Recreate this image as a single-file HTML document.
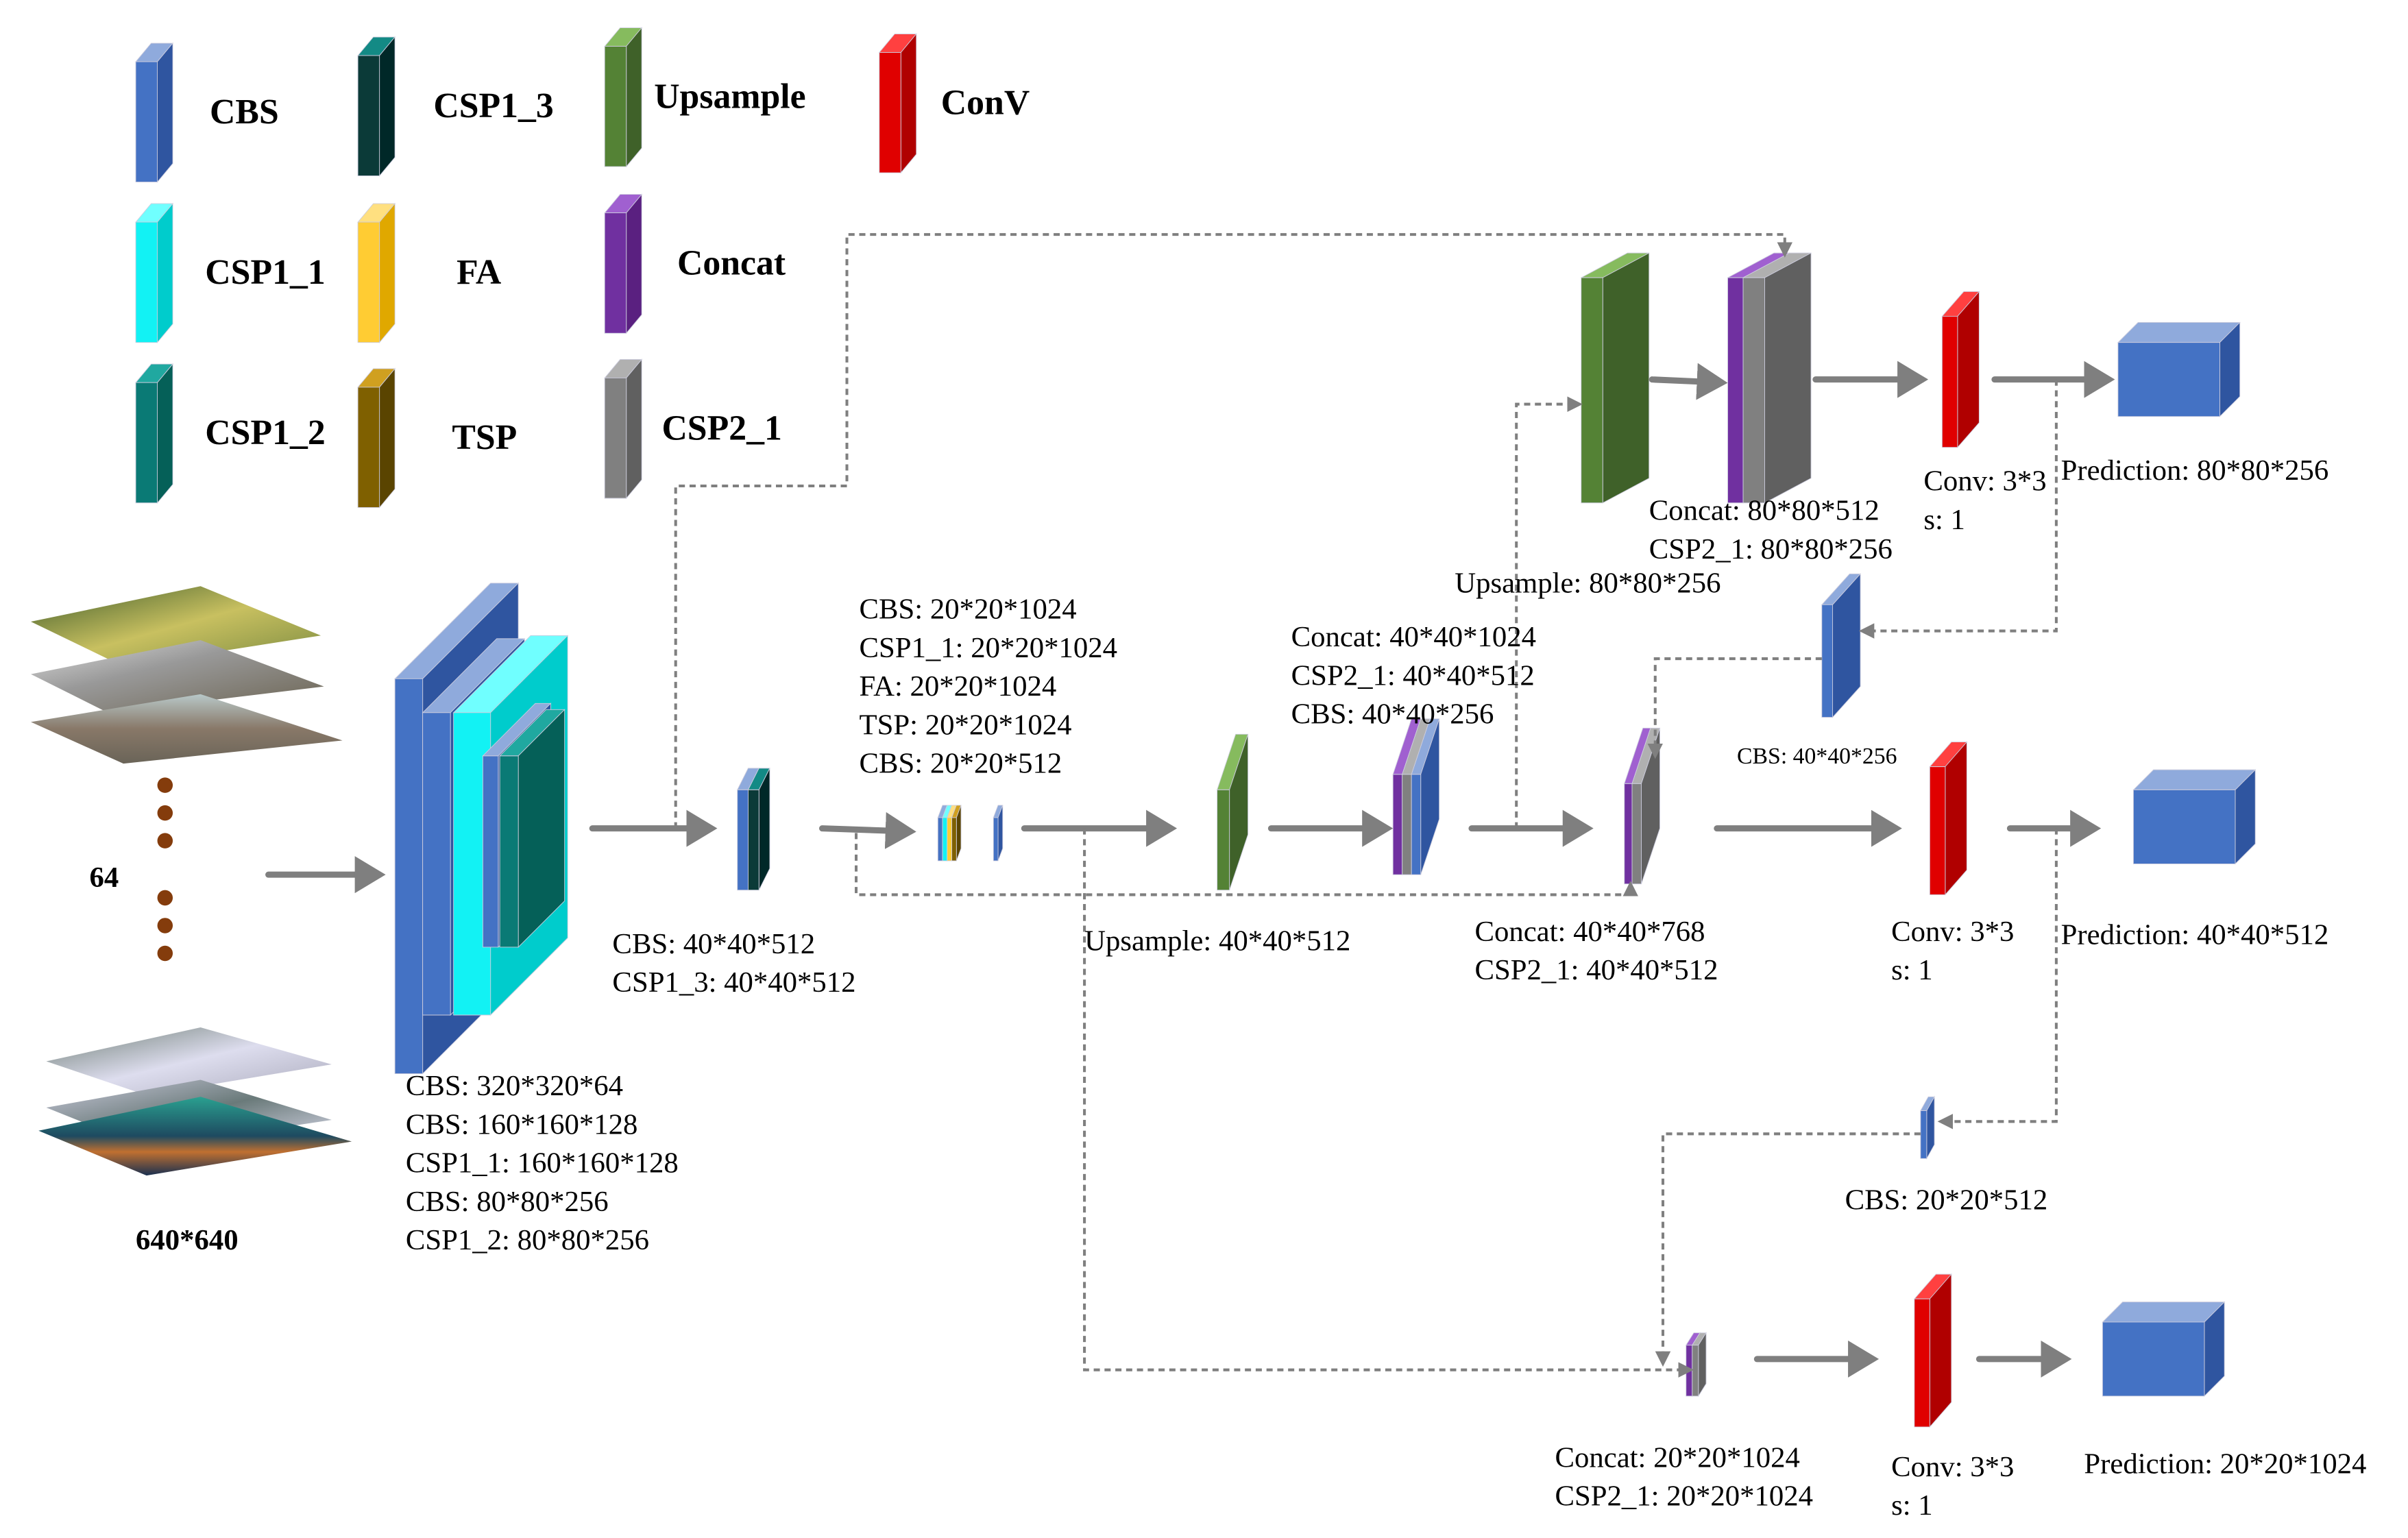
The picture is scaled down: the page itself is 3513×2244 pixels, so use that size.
<!DOCTYPE html>
<html><head><meta charset="utf-8"><style>
html,body{margin:0;padding:0;background:#fff;}
svg{display:block;}
.t{font-family:"Liberation Serif","Times New Roman",serif;font-size:19px;fill:#000;}
.b{font-family:"Liberation Serif","Times New Roman",serif;font-size:23px;font-weight:bold;fill:#000;}
.a{stroke:#7f7f7f;stroke-width:4;fill:none;stroke-linecap:round;}
.d{stroke:#7f7f7f;stroke-width:1.8;fill:none;stroke-dasharray:4,3;}
</style></head><body>
<svg id="s" width="3513" height="2244" viewBox="0 0 1561 997" preserveAspectRatio="none" xmlns="http://www.w3.org/2000/svg" font-family="Liberation Serif, serif">
<defs>
<marker id="ah" markerWidth="6" markerHeight="6" refX="4" refY="3" orient="auto" markerUnits="strokeWidth"><path d="M0,0 L5,3 L0,6 Z" fill="#7f7f7f"/></marker>
<marker id="dh" markerWidth="10" markerHeight="10" refX="8" refY="5" orient="auto" markerUnits="userSpaceOnUse"><path d="M0,0 L10,5 L0,10 Z" fill="#7f7f7f"/></marker>
<linearGradient id="g1" x1="0" y1="0" x2="1" y2="1"><stop offset="0" stop-color="#3d5a2a"/><stop offset=".5" stop-color="#c8c060"/><stop offset="1" stop-color="#7a8a40"/></linearGradient>
<linearGradient id="g2" x1="0" y1="0" x2="1" y2="1"><stop offset="0" stop-color="#ddd"/><stop offset=".4" stop-color="#999"/><stop offset="1" stop-color="#6a6250"/></linearGradient>
<linearGradient id="g3" x1="0" y1="0" x2="0" y2="1"><stop offset="0" stop-color="#b8c8c8"/><stop offset=".5" stop-color="#887868"/><stop offset="1" stop-color="#6a6458"/></linearGradient>
<linearGradient id="g4" x1="0" y1="0" x2="1" y2="1"><stop offset="0" stop-color="#6a7a70"/><stop offset=".5" stop-color="#dde"/><stop offset="1" stop-color="#aab"/></linearGradient>
<linearGradient id="g5" x1="0" y1="0" x2="1" y2="1"><stop offset="0" stop-color="#ccd"/><stop offset=".5" stop-color="#6a7a7a"/><stop offset="1" stop-color="#dde"/></linearGradient>
<linearGradient id="g6" x1="0" y1="0" x2="0" y2="1"><stop offset="0" stop-color="#2aa090"/><stop offset=".5" stop-color="#1e4a60"/><stop offset=".7" stop-color="#c07030"/><stop offset="1" stop-color="#1a3050"/></linearGradient>
</defs>
<g id="shapes"></g>
<polygon points="20,403 130,380 208,412 80,432" fill="url(#g1)"/>
<polygon points="20,437 130,415 210,445 70,462" fill="url(#g2)"/>
<polygon points="20,468 130,450 222,480 80,495" fill="url(#g3)"/>
<polygon points="30,688 130,666 215,690 95,710" fill="url(#g4)"/>
<polygon points="30,718 130,700 215,726 95,744" fill="url(#g5)"/>
<polygon points="25,733 130,711 228,740 95,762" fill="url(#g6)"/>
<g fill="#843c0c"><circle cx="107" cy="509" r="5"/><circle cx="107" cy="527" r="5"/><circle cx="107" cy="545" r="5"/><circle cx="107" cy="582" r="5"/><circle cx="107" cy="600" r="5"/><circle cx="107" cy="618" r="5"/></g>
<g font-family="Liberation Serif, serif">
<text class="b" x="58" y="575" style="font-size:19px">64</text>
<text class="b" x="88" y="810" style="font-size:19px">640*640</text>
<text class="b" x="136" y="80">CBS</text>
<text class="b" x="281" y="76">CSP1_3</text>
<text class="b" x="424" y="70">Upsample</text>
<text class="b" x="610" y="74">ConV</text>
<text class="b" x="133" y="184">CSP1_1</text>
<text class="b" x="296" y="184">FA</text>
<text class="b" x="439" y="178">Concat</text>
<text class="b" x="133" y="288">CSP1_2</text>
<text class="b" x="293" y="291">TSP</text>
<text class="b" x="429" y="285">CSP2_1</text>
</g>
<g class="a">
<line x1="174" y1="567" x2="246" y2="567" marker-end="url(#ah)"/>
<line x1="384" y1="537" x2="461" y2="537" marker-end="url(#ah)"/>
<line x1="533" y1="537" x2="590" y2="539" marker-end="url(#ah)"/>
<line x1="664" y1="537" x2="759" y2="537" marker-end="url(#ah)"/>
<line x1="824" y1="537" x2="899" y2="537" marker-end="url(#ah)"/>
<line x1="954" y1="537" x2="1029" y2="537" marker-end="url(#ah)"/>
<line x1="1113" y1="537" x2="1229" y2="537" marker-end="url(#ah)"/>
<line x1="1303" y1="537" x2="1358" y2="537" marker-end="url(#ah)"/>
<line x1="1139" y1="881" x2="1214" y2="881" marker-end="url(#ah)"/>
<line x1="1283" y1="881" x2="1339" y2="881" marker-end="url(#ah)"/>
<line x1="1071" y1="246" x2="1116" y2="248" marker-end="url(#ah)"/>
<line x1="1177" y1="246" x2="1246" y2="246" marker-end="url(#ah)"/>
<line x1="1293" y1="246" x2="1367" y2="246" marker-end="url(#ah)"/>
</g>
<g class="d">
<polyline points="438,537 438,315 549,315 549,152 1157,152 1157,165" marker-end="url(#dh)"/>
<polyline points="555,540 555,580 1057,580 1057,573" marker-end="url(#dh)"/>
<polyline points="703,537 703,888 1096,888" marker-end="url(#dh)"/>
<polyline points="983,537 983,262 1024,262" marker-end="url(#dh)"/>
<polyline points="1333,246 1333,409 1207,409" marker-end="url(#dh)"/>
<polyline points="1181,427 1073,427 1073,490" marker-end="url(#dh)"/>
<polyline points="1333,537 1333,727 1258,727" marker-end="url(#dh)"/>
<polyline points="1245,735 1078,735 1078,884" marker-end="url(#dh)"/>
</g>
<g class="t" font-family="Liberation Serif, serif">
<text x="263" y="710">CBS: 320*320*64</text>
<text x="263" y="735">CBS: 160*160*128</text>
<text x="263" y="760">CSP1_1: 160*160*128</text>
<text x="263" y="785">CBS: 80*80*256</text>
<text x="263" y="810">CSP1_2: 80*80*256</text>
<text x="397" y="618">CBS: 40*40*512</text>
<text x="397" y="643">CSP1_3: 40*40*512</text>
<text x="557" y="401">CBS: 20*20*1024</text>
<text x="557" y="426">CSP1_1: 20*20*1024</text>
<text x="557" y="451">FA: 20*20*1024</text>
<text x="557" y="476">TSP: 20*20*1024</text>
<text x="557" y="501">CBS: 20*20*512</text>
<text x="703" y="616">Upsample: 40*40*512</text>
<text x="837" y="419">Concat: 40*40*1024</text>
<text x="837" y="444">CSP2_1: 40*40*512</text>
<text x="837" y="469">CBS: 40*40*256</text>
<text x="956" y="610">Concat: 40*40*768</text>
<text x="956" y="635">CSP2_1: 40*40*512</text>
<text x="1226" y="610">Conv: 3*3</text>
<text x="1226" y="635">s: 1</text>
<text x="1336" y="612">Prediction: 40*40*512</text>
<text x="1196" y="784">CBS: 20*20*512</text>
<text x="1008" y="951">Concat: 20*20*1024</text>
<text x="1008" y="976">CSP2_1: 20*20*1024</text>
<text x="1226" y="957">Conv: 3*3</text>
<text x="1226" y="982">s: 1</text>
<text x="1351" y="955">Prediction: 20*20*1024</text>
<text x="943" y="384">Upsample: 80*80*256</text>
<text x="1069" y="337">Concat: 80*80*512</text>
<text x="1069" y="362">CSP2_1: 80*80*256</text>
<text x="1247" y="318">Conv: 3*3</text>
<text x="1247" y="343">s: 1</text>
<text x="1336" y="311">Prediction: 80*80*256</text>
<text x="1126" y="495" style="font-size:15px">CBS: 40*40*256</text>
</g>
</svg>
<script>
var g=document.getElementById('shapes'),NS='http://www.w3.org/2000/svg';
function P(pts,f){var p=document.createElementNS(NS,'polygon');p.setAttribute('points',pts);p.setAttribute('fill',f);p.setAttribute('stroke','#ccd');p.setAttribute('stroke-width','0.4');g.appendChild(p);}
function S(x,y,w,h,dx,dy,f,t,s){
P(x+','+y+' '+(x+dx)+','+(y-dy)+' '+(x+w+dx)+','+(y-dy)+' '+(x+w)+','+y,t);
P((x+w)+','+y+' '+(x+w+dx)+','+(y-dy)+' '+(x+w+dx)+','+(y+h-dy)+' '+(x+w)+','+(y+h),s);
P(x+','+y+' '+(x+w)+','+y+' '+(x+w)+','+(y+h)+' '+x+','+(y+h),f);}
var C={
cbs:['#4472c4','#8faadc','#2f55a0'],csp13:['#0b3a38','#138a85','#002828'],up:['#548235','#86bb5e','#3f6129'],
red:['#e00000','#ff4040','#b00000'],c11:['#12f2f4','#70ffff','#00cccc'],fa:['#ffcc33','#ffe080','#e0a800'],
cat:['#7030a0','#a060d0','#5a2080'],c12:['#0a7a75','#20a8a0','#056058'],tsp:['#7f6000','#d0a020','#5a4400'],
c21:['#808080','#b0b0b0','#606060']};
function B(x,y,w,h,dx,dy,k){var c=C[k];S(x,y,w,h,dx,dy,c[0],c[1],c[2]);}
B(88,40,14,78,10,12,'cbs');B(232,36,14,78,10,12,'csp13');B(392,30,14,78,10,12,'up');B(570,34,14,78,10,12,'red');
B(88,144,14,78,10,12,'c11');B(232,144,14,78,10,12,'fa');B(392,138,14,78,10,12,'cat');
B(88,248,14,78,10,12,'c12');B(232,251,14,78,10,12,'tsp');B(392,245,14,78,10,12,'c21');
B(256,440,18,256,62,62,'cbs');
B(274,462,18,196,48,48,'cbs');
B(294,462,24,196,50,50,'c11');
B(313,490,10,124,34,34,'cbs');
B(324,490,12,124,30,30,'c12');
B(478,512,7,65,7,14,'cbs');B(485,512,7,65,7,14,'csp13');
B(608,530,3,28,3,8,'cbs');B(611,530,3,28,3,8,'c11');B(614,530,3,28,3,8,'fa');B(617,530,3,28,3,8,'tsp');
B(644,530,3,28,3,8,'cbs');
B(789,512,8,65,12,36,'up');
B(903,502,6,65,12,36,'cat');B(909,502,6,65,12,36,'c21');B(915,502,6,65,12,36,'cbs');
B(1053,508,5,65,12,36,'cat');B(1058,508,6,65,12,36,'c21');
B(1251,497,10,83,14,16,'red');
B(1383,512,66,48,13,13,'cbs');
B(1245,720,4,31,5,9,'cbs');
B(1093,872,4,33,5,8,'cat');B(1097,872,4,33,5,8,'c21');
B(1241,842,10,83,14,16,'red');
B(1363,857,66,48,13,13,'cbs');
B(1025,180,14,146,30,16,'up');
B(1120,180,10,146,30,16,'cat');B(1130,180,14,146,30,16,'c21');
B(1259,205,10,85,14,16,'red');
B(1373,222,66,48,13,13,'cbs');
B(1181,392,7,73,18,20,'cbs');
</script>
</body></html>
